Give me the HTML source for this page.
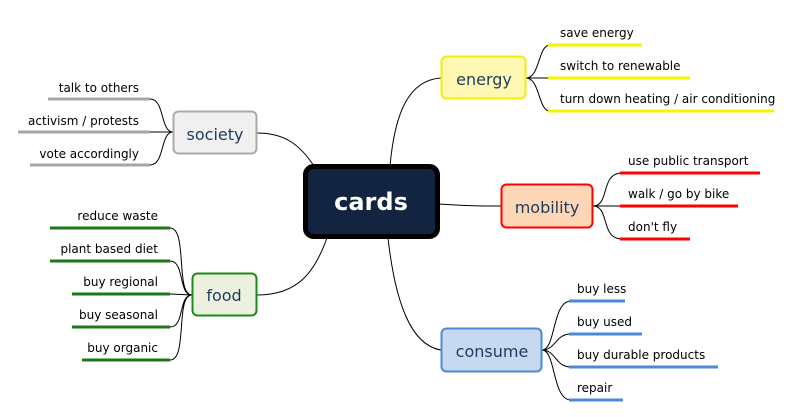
<!DOCTYPE html>
<html><head><style>body{margin:0;background:#fff}svg{display:block}text{font-family:"DejaVu Sans","Liberation Sans",sans-serif}</style></head><body>
<svg width="804" height="417" viewBox="0 0 804 417" xmlns="http://www.w3.org/2000/svg">
<g fill="none" stroke="#000" stroke-width="1">
<path d="M390,166 C395,110 410,80 441,78"/>
<path d="M439,204 C470,206 480,206 501,206"/>
<path d="M388,238 C395,300 410,345 441,350"/>
<path d="M314,166 C300,145 285,133 257,133"/>
<path d="M327,238 C315,270 300,295 257,295"/>
<path d="M526,78 C540,78 538,45 550,45 M526,78 L548,78 M526,78 C540,78 538,111 550,111"/>
<path d="M593,206 C610,206 600,173 622,173 M593,206 L620,206 M593,206 C610,206 600,239 622,239"/>
<path d="M542,350 C556,350 552,301 571,301 M542,350 C556,350 555,334 571,334 M542,350 C556,350 555,367 571,367 M542,350 C556,350 552,400 571,400"/>
<path d="M173,132 C160,132 165,99 150,99 M173,132 L150,132 M173,132 C160,132 165,165 150,165"/>
<path d="M192,295 C175,295 188,228 170,228 M192,295 C178,295 185,261 170,261 M192,295 L170,294 M192,295 C178,295 185,327 170,327 M192,295 C175,295 188,360 170,360"/>
</g>
<g stroke-width="3">
<path d="M548,45H642M548,78H690M548,111H774" stroke="#f5f500"/>
<path d="M620,173H760M620,206H738M620,239H690" stroke="#f00"/>
<path d="M569,301H625M569,334H642M569,367H718M569,400H623" stroke="#4a8ad6"/>
<path d="M48,99H150M18,132H150M30,165H150" stroke="#a6a6a6"/>
<path d="M50,228H170M50,261H170M72,294H170M72,327H170M82,360H170" stroke="#1a7a1a"/>
</g>
<rect x="305.5" y="166.5" width="132" height="70" rx="8" fill="#12243f" stroke="#000" stroke-width="5"/>
<text x="371" y="210" font-size="24" font-weight="bold" fill="#fff" text-anchor="middle">cards</text>
<rect x="441.5" y="56.5" width="84" height="42" rx="5" fill="#fff8b3" stroke="#f0f000" stroke-width="2"/>
<rect x="501.5" y="184.5" width="91" height="43" rx="5" fill="#fdd6b5" stroke="#f00" stroke-width="2"/>
<rect x="441.5" y="328.5" width="100" height="43" rx="5" fill="#c6d9f1" stroke="#4a8ad6" stroke-width="2"/>
<rect x="173.5" y="111.5" width="83" height="42" rx="5" fill="#f0f0f0" stroke="#aaa" stroke-width="2"/>
<rect x="192.5" y="273.5" width="64" height="42" rx="5" fill="#ebf1de" stroke="#1a8a1a" stroke-width="2"/>
<g font-size="16" fill="#1f3a5f" text-anchor="middle">
<text x="484" y="85">energy</text><text x="547" y="213">mobility</text><text x="492" y="357">consume</text><text x="215" y="140">society</text><text x="224" y="301">food</text>
</g>
<g font-size="12" fill="#000">
<text x="560" y="37">save energy</text><text x="560" y="70">switch to renewable</text><text x="560" y="103">turn down heating / air conditioning</text>
<text x="628" y="165">use public transport</text><text x="628" y="198">walk / go by bike</text><text x="628" y="231">don't fly</text>
<text x="577" y="293">buy less</text><text x="577" y="326">buy used</text><text x="577" y="359">buy durable products</text><text x="577" y="392">repair</text>
</g>
<g font-size="12" fill="#000" text-anchor="end">
<text x="139" y="92">talk to others</text><text x="139" y="125">activism / protests</text><text x="139" y="158">vote accordingly</text>
<text x="158" y="220">reduce waste</text><text x="158" y="253">plant based diet</text><text x="158" y="286">buy regional</text><text x="158" y="319">buy seasonal</text><text x="158" y="352">buy organic</text>
</g>
</svg>
</body></html>
